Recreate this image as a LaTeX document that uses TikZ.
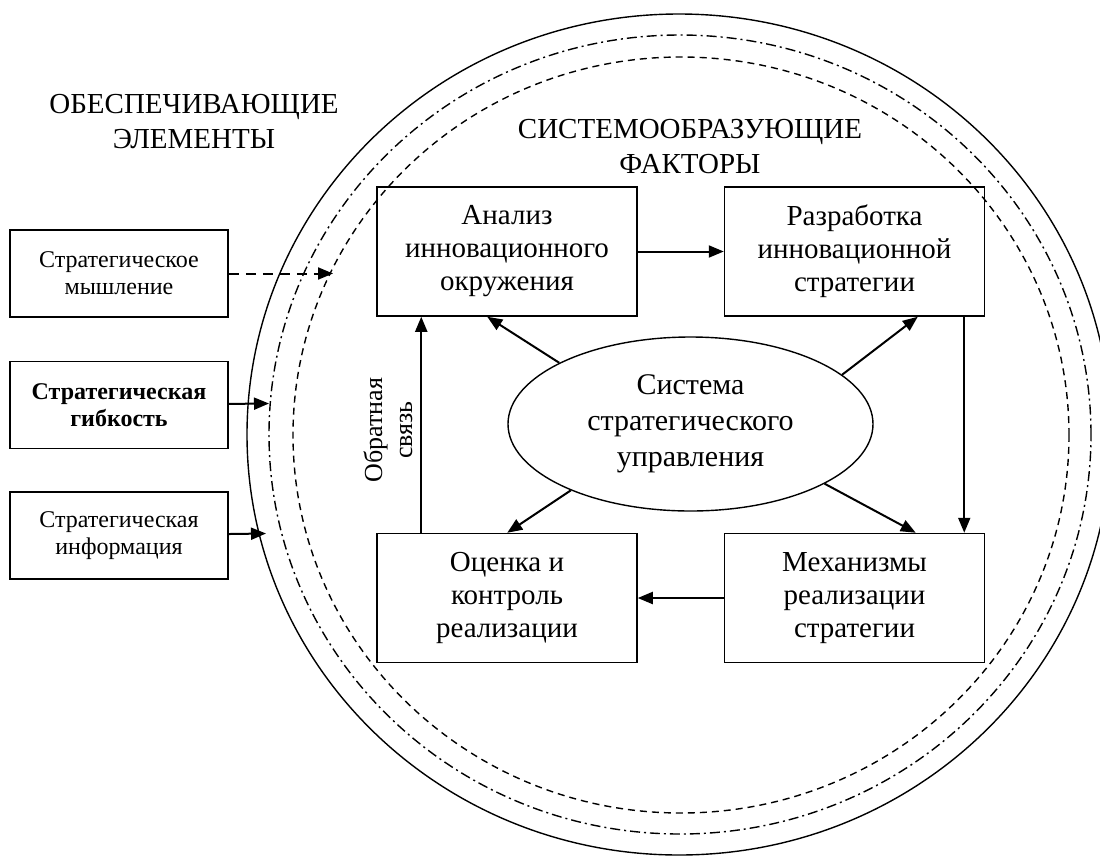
\documentclass[tikz,border=0pt]{standalone}
\usepackage{fontspec}
\setmainfont{Liberation Serif}
\tikzstyle{solidring} = [line width=1.4pt]
\tikzstyle{dotring} = [line width=1.4pt, dash pattern=on 10pt off 4pt on 2pt off 4pt]
\tikzstyle{dashring} = [line width=1.4pt, dash pattern=on 7pt off 5pt]
\tikzstyle{link} = [line width=2pt, -{Triangle[length=15pt,width=12pt]}]
\tikzstyle{weaklink} = [dash pattern=on 10pt off 7pt]
\usetikzlibrary{positioning}
\usetikzlibrary{shapes.geometric}
\usetikzlibrary{arrows.meta}

\begin{document}
\begin{tikzpicture}[x=1pt,y=-1pt,
      box node/.style={draw,line width=1.5pt,minimum width=260pt,minimum height=129pt,
        inner sep=0pt,align=center,font=\fontsize{29}{33}\selectfont},
      side node/.style={draw,line width=1.5pt,minimum width=218pt,minimum height=87pt,
        inner sep=0pt,align=center,font=\fontsize{24}{27}\selectfont},
      title node/.style={align=center,font=\fontsize{29}{35}\selectfont}]

      \clip (0,0) rectangle (1100,855);

      % rings
      \draw[solidring] (679,434.5) ellipse [x radius=432pt, y radius=420.5pt];
      \draw[dotring] (680,434.5) ellipse [x radius=411pt, y radius=399.5pt];
      \draw[dashring] (681,435) ellipse [x radius=388pt, y radius=378pt];

      \node[title node] (ELEM) at (194,122) {ОБЕСПЕЧИВАЮЩИЕ\\ЭЛЕМЕНТЫ};
      \node[title node] (FACT) at (690,147) {СИСТЕМООБРАЗУЮЩИЕ\\ФАКТОРЫ};

      \node[box node] (ANA) at (507,251.5) {Анализ\\инновационного\\окружения};
      \node[box node] (RAZ) [right=86pt of ANA] {Разработка\\инновационной\\стратегии};
      \node[box node] (OCE) [below=216pt of ANA] {Оценка и\\контроль\\реализации};
      \node[box node] (MEH) [right=86pt of OCE] {Механизмы\\реализации\\стратегии};

      \node[ellipse,draw,line width=1.4pt,minimum width=365pt,minimum height=174pt,inner sep=0pt,
        align=center,font=\fontsize{30}{36}\selectfont] (SYS) at (690.5,424)
        {Система\\стратегического\\управления};

      \node[rotate=90,align=center,font=\fontsize{26}{30}\selectfont] (FB) at (388,430) {Обратная\\связь};

      \node[side node] (MYS) at (119,273.5) {Стратегическое\\мышление};
      \node[side node] (GIB) [below=43pt of MYS] {\bfseries Стратегическая\\\bfseries гибкость};
      \node[side node] (INF) [below=42pt of GIB] {Стратегическая\\информация};

      \coordinate (MYS1) at (333,273.5);
      \coordinate (GIB1) at (269,403.5);
      \coordinate (INF1) at (266,533.5);

      \draw[link,weaklink] (MYS) -- (MYS1);
      \draw[link] (GIB) -- (GIB1);
      \draw[link] (INF) -- (INF1);

      \draw[link] (ANA) -- (RAZ);
      \draw[link] (MEH) -- (OCE);
      \draw[link] ([xshift=-21pt]RAZ.south east) -- ([xshift=-21pt]MEH.north east);
      \draw[link] ([xshift=45pt]OCE.north west) -- ([xshift=45pt]ANA.south west);

      \draw[link] (SYS.155) -- ([xshift=111pt]ANA.south west);
      \draw[link] (SYS.18) -- ([xshift=194pt]RAZ.south west);
      \draw[link] (SYS.209) -- ([xshift=131pt]OCE.north west);
      \draw[link] (SYS.336) -- ([xshift=192pt]MEH.north west);
    \end{tikzpicture}
\end{document}
